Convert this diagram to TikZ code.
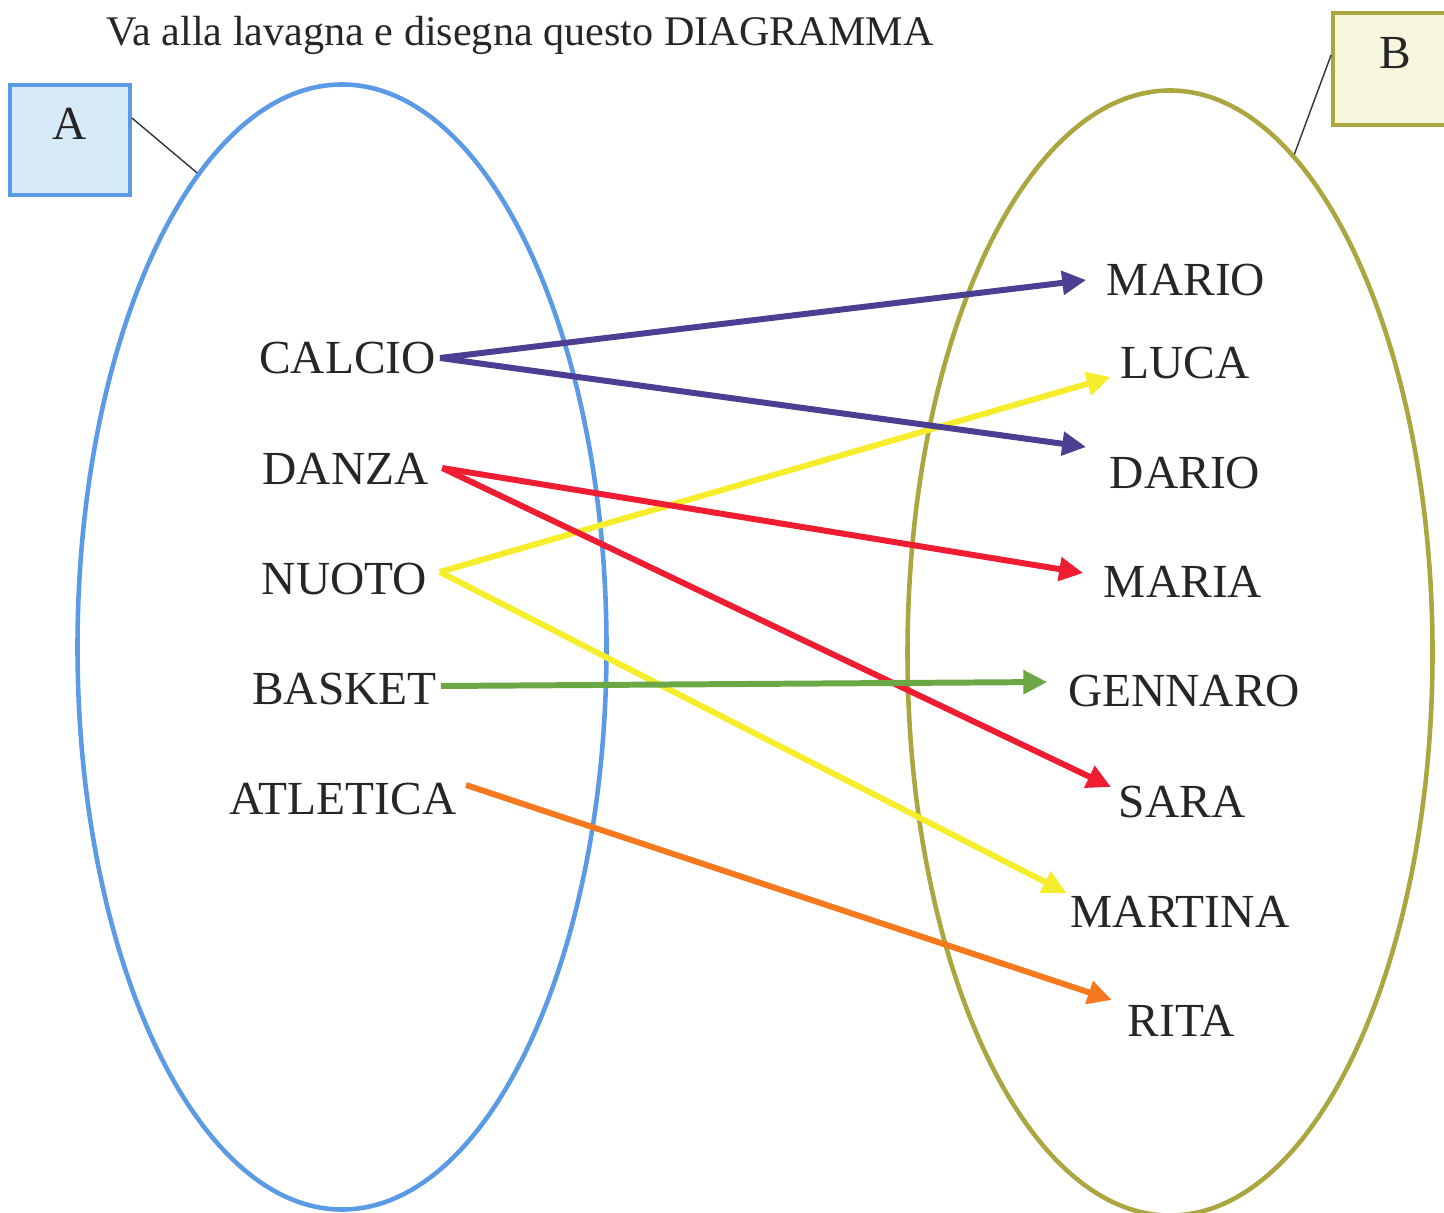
\documentclass[tikz,border=0pt]{standalone}
\usepackage{fontspec}
\setmainfont{Liberation Serif}
\usetikzlibrary{arrows.meta,positioning,shapes.geometric}
\definecolor{setblue}{HTML}{5B9BE6}
\definecolor{setolive}{HTML}{ABA640}
\definecolor{boxblue}{HTML}{D7EAF8}
\definecolor{boxolive}{HTML}{F5F6DC}
\definecolor{lnblue}{HTML}{4A3F93}
\definecolor{lnyellow}{HTML}{F6EE2C}
\definecolor{lnred}{HTML}{EE1D32}
\definecolor{lngreen}{HTML}{6BA845}
\definecolor{lnorange}{HTML}{F6781F}

\begin{document}
\begin{tikzpicture}[
  lab/.style={inner sep=1pt,text=black!85,font=\fontsize{13.5}{16}\selectfont},
  arr/.style={line width=1.7pt,-{Triangle[length=0.24cm,width=0.23cm]}}]
\useasboundingbox (0,0) rectangle (14.44,-12.13);
\node[lab,font=\fontsize{12}{14}\selectfont,anchor=base] (title) at (5.20,-0.46) {Va alla lavagna e disegna questo DIAGRAMMA};

% the two sets
\node[draw=setblue,line width=1.3pt,ellipse,minimum width=5.29cm,minimum height=11.25cm,inner sep=0] (setA) at (3.42,-6.47) {};
\node[draw=setolive,line width=1.3pt,ellipse,minimum width=5.25cm,minimum height=11.25cm,inner sep=0] (setB) at (11.70,-6.53) {};
\node[lab,draw=setblue,fill=boxblue,line width=1.1pt,minimum width=1.2cm,minimum height=1.1cm,text depth=0.32cm] (boxA) at (0.70,-1.40) {A};
\node[lab,draw=setolive,fill=boxolive,line width=1.1pt,minimum width=1.24cm,minimum height=1.12cm,text depth=0.33cm] (boxB) at (13.95,-0.69) {B};
\draw[black!80,thin] ([yshift=0.22cm]boxA.east) -- (setA.107.5);
\draw[black!80,thin] ([yshift=0.14cm]boxB.west) -- (setB.76.6);

% sports
\node[lab] (calcio) at (3.475,-3.58) {CALCIO};
\node[lab] (danza) at (3.455,-4.69) {DANZA};
\node[lab] (nuoto) at (3.445,-5.79) {NUOTO};
\node[lab] (basket) at (3.445,-6.89) {BASKET};
\node[lab] (atletica) at (3.43,-7.99) {ATLETICA};

% names
\node[lab] (mario) at (11.86,-2.80) {MARIO};
\node[lab] (luca) at (11.85,-3.63) {LUCA};
\node[lab] (dario) at (11.85,-4.73) {DARIO};
\node[lab] (maria) at (11.83,-5.82) {MARIA};
\node[lab] (gennaro) at (11.84,-6.91) {GENNARO};
\node[lab] (sara) at (11.82,-8.02) {SARA};
\node[lab] (martina) at (11.80,-9.12) {MARTINA};
\node[lab] (rita) at (11.81,-10.21) {RITA};

% arrows
\draw[arr,lnyellow] ([xshift=0.085cm,yshift=0.07cm]nuoto.east) -- ([xshift=-0.055cm,yshift=-0.14cm]luca.west);
\draw[arr,lnyellow] ([xshift=0.085cm,yshift=0.07cm]nuoto.east) -- ([yshift=0.19cm]martina.west);
\draw[arr,lnblue] (calcio.east) -- ([xshift=-0.165cm]mario.west);
\draw[arr,lnblue] (calcio.east) -- ([xshift=-0.195cm,yshift=0.26cm]dario.west);
\draw[arr,lnred] ([xshift=0.095cm,yshift=0.01cm]danza.east) -- ([xshift=-0.165cm,yshift=0.09cm]maria.west);
\draw[arr,lnred] ([xshift=0.095cm,yshift=0.01cm]danza.east) -- ([xshift=-0.035cm,yshift=0.15cm]sara.west);
\draw[arr,lngreen] ([yshift=0.03cm]basket.east) -- ([xshift=-0.165cm,yshift=0.09cm]gennaro.west);
\draw[arr,lnorange] ([xshift=0.055cm,yshift=0.14cm]atletica.east) -- ([xshift=-0.115cm,yshift=0.21cm]rita.west);
\end{tikzpicture}
\end{document}
